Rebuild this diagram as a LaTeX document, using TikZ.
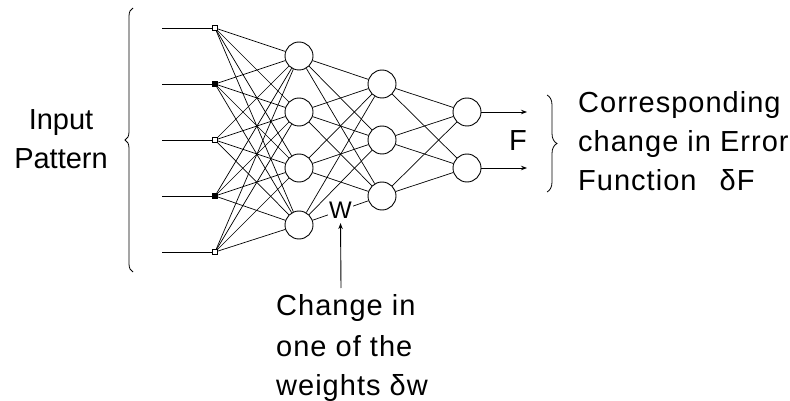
\documentclass[tikz,border=0pt]{standalone}
\usepackage{fontspec}
\setmainfont{Liberation Sans}
\newfontfamily\widesans[LetterSpace=3.5]{Liberation Sans}
\usetikzlibrary{decorations.pathreplacing,arrows.meta}
\begin{document}
\begin{tikzpicture}[x=1pt,y=-1pt,
  neuron/.style={circle,draw,line width=0.9pt,minimum size=28pt,inner sep=0pt,fill=white},
  inp/.style={rectangle,draw,line width=0.7pt,minimum size=4.5pt,inner sep=0pt,fill=white},
  inpfull/.style={inp,fill=black},
  link/.style={line width=0.7pt},
  tip/.style={line width=0.9pt,-{Stealth[length=6pt,width=4.5pt]}},
  lbl/.style={font=\fontsize{29}{35}\selectfont,inner sep=0pt},
  widelbl/.style={font=\widesans\fontsize{29}{35}\selectfont,inner sep=0pt},
  bracestyle/.style={line width=0.8pt,decorate},
]
\useasboundingbox (0,0) rectangle (790,401);

% input units and their incoming stubs
\foreach \i/\y in {1/28,3/140,5/252} \node[inp] (i\i) at (215,\y) {};
\foreach \i/\y in {2/84,4/196} \node[inpfull] (i\i) at (215,\y) {};
\foreach \i/\y in {1/28,2/84,3/140,4/196,5/252} {
  \coordinate (s\i) at (162,\y);
  \draw[link] (s\i) -- (i\i);
}

% hidden and output layers
\foreach \i/\y in {1/56,2/112,3/168,4/225} \node[neuron] (h\i) at (299,\y) {};
\foreach \i/\y in {1/84,2/140,3/196} \node[neuron] (m\i) at (382,\y) {};
\foreach \i/\y in {1/112,2/168} \node[neuron] (o\i) at (467,\y) {};

% full connections between consecutive layers
\foreach \a in {1,...,5} \foreach \b in {1,...,4} \draw[link] (i\a) -- (h\b);
\foreach \a in {1,...,4} \foreach \b in {1,...,3} {
  \ifnum\a=4 \ifnum\b=3 \else \draw[link] (h\a) -- (m\b); \fi
  \else \draw[link] (h\a) -- (m\b); \fi
}
\draw[link] (h4) -- node[fill=white,inner sep=1pt,font=\fontsize{24}{28}\selectfont] (w) {W} (m3);
\foreach \a in {1,...,3} \foreach \b in {1,2} \draw[link] (m\a) -- (o\b);

% output arrows
\coordinate (f1) at (527,112);
\coordinate (f2) at (527,168);
\draw[tip] (o1) -- (f1);
\draw[tip] (o2) -- (f2);
\node[lbl] (F) at (518,141) {F};

% braces
\coordinate (lb1) at (133,272);
\coordinate (lb2) at (133,8);
\draw[bracestyle,decoration={brace,amplitude=8pt}] (lb1) -- (lb2);
\coordinate (rb1) at (547,95);
\coordinate (rb2) at (547,192);
\draw[bracestyle,decoration={brace,amplitude=10pt}] (rb1) -- (rb2);

% left caption
\node[lbl,anchor=base] (in1) at (61,130) {Input};
\node[lbl,anchor=base] (in2) at (61,168) {Pattern};

% right caption
\node[widelbl,anchor=base west] (c1) at (578,113) {Corresponding};
\node[widelbl,anchor=base west] (c2) at (578,152) {change in Error};
\node[widelbl,anchor=base west] (c3) at (578,190) {Function\hspace{0.8em}δF};

% bottom caption and pointer to the weight
\node[widelbl,anchor=base west] (b1) at (276,315) {Change in};
\node[widelbl,anchor=base west] (b2) at (276,356) {one of the};
\node[widelbl,anchor=base west] (b3) at (276,395) {weights δw};
\coordinate (wa) at (341,288);
\draw[tip,shorten >=3pt] (wa) -- (w.south);
\end{tikzpicture}
\end{document}
